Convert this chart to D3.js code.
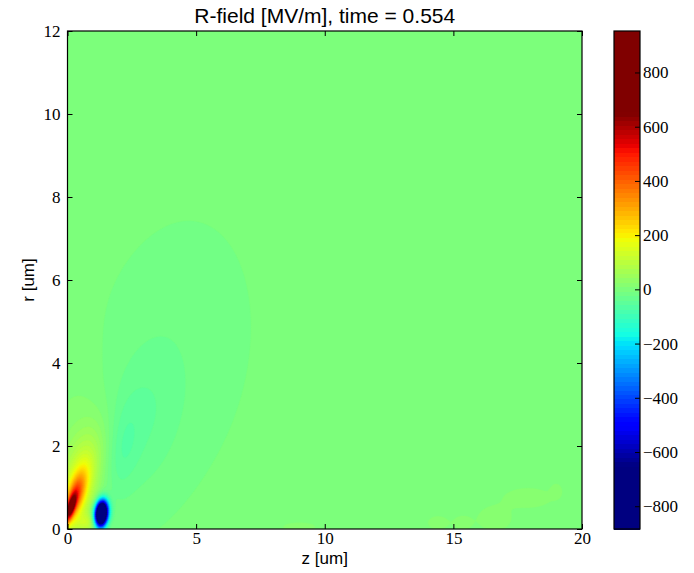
<!DOCTYPE html>
<html>
<head>
<meta charset="utf-8">
<style>
  body { margin: 0; background: #fff; }
  .lbl { font-family: "Liberation Sans", Arial, sans-serif; fill: #000; }
</style>
</head>
<body>
<svg width="694" height="573"></svg>
<script src="https://d3js.org/d3.v7.min.js"></script>
<script>
const svg = d3.select("svg");
const plot = {left: 67.5, right: 582, top: 31, bottom: 529}; // axes box in px
const cbar = {left: 614, right: 640};                        // colorbar box in px

const zDomain = [0, 20];
const rDomain = [0, 12];
const zTicks = [0, 5, 10, 15, 20];
const rTicks = [0, 2, 4, 6, 8, 10, 12];
const cbTicks = [-800, -600, -400, -200, 0, 200, 400, 600, 800];
const cbRange = [-884, 953];   // field min / max, ends of the colorbar
const colorLimit = 650;        // jet saturates beyond +-650
const nBands = 111;            // filled contour bands

// field lobes (um, um, um, um, deg, MV/m)
const lobeZ     = [4.0, 2.9, 2.15,  0.12, 0.3,  0.45, 0.3, 0.8,   1.32,   17.9, 19.0, 16.6, 14.4, 15.35, 9.0];
const lobeR     = [4.1, 2.6, 1.9,   0.5,  0.78, 1.05, 1.5, 0.15,  0.37,   0.75, 0.92, 0.25, 0.15, 0.15,  0.05];
const lobeMajor = [3.0, 1.5, 0.8,   0.25, 0.45, 0.9,  1.5, 0.3,   0.2,    0.7,  0.15, 0.5,  0.3,  0.25,  0.5];
const lobeMinor = [2.35, 1.0, 0.4,  0.09, 0.2,  0.45, 0.8, 0.15,  0.16,   0.18, 0.12, 0.22, 0.12, 0.12,  0.08];
const lobeAngle = [52,  58,  72,    62,   60,   62,   80,  0,     70,     0,    0,    0,    0,    0,     0];
const lobeAmp   = [-14, -30, -30,   480,  300,  150,  30,  80,    -1600,  22,   22,   22,   22,   22,    22];

const x = d3.scaleLinear().domain(zDomain).range([plot.left, plot.right]);
const y = d3.scaleLinear().domain(rDomain).range([plot.bottom, plot.top]);

// jet colormap
const jetR = d3.scaleLinear().domain([0, 0.35, 0.66, 0.89, 1]).range([0, 0, 1, 1, 0.5]).clamp(true);
const jetG = d3.scaleLinear().domain([0, 0.125, 0.375, 0.64, 0.91, 1]).range([0, 0, 1, 1, 0, 0]).clamp(true);
const jetB = d3.scaleLinear().domain([0, 0.11, 0.34, 0.65, 1]).range([0.5, 1, 1, 0, 0]).clamp(true);
const norm = d3.scaleLinear().domain([-colorLimit, colorLimit]).range([0, 1]).clamp(true);
const jet = v => { const t = norm(v); return d3.rgb(jetR(t) * 255, jetG(t) * 255, jetB(t) * 255).toString(); };

const levels = d3.range(nBands + 1).map(k => cbRange[0] + k * (cbRange[1] - cbRange[0]) / nBands);
const bandColor = levels.slice(0, -1).map((l, k) => jet((l + levels[k + 1]) / 2));

// sample the field on a grid
const dz = 0.05, dr = 0.05;
const nx = Math.round((zDomain[1] - zDomain[0]) / dz) + 3;
const ny = Math.round((rDomain[1] - rDomain[0]) / dr) + 3;
const values = new Float64Array(nx * ny);
for (let j = 0; j < ny; j++) {
  const r = rDomain[0] + (j - 1) * dr;
  for (let i = 0; i < nx; i++) {
    const z = zDomain[0] + (i - 1) * dz;
    let v = 0;
    for (let k = 0; k < lobeZ.length; k++) {
      const a = lobeAngle[k] * Math.PI / 180;
      const dzk = z - lobeZ[k], drk = r - lobeR[k];
      const u = (dzk * Math.cos(a) + drk * Math.sin(a)) / lobeMajor[k];
      const w = (dzk * Math.sin(a) - drk * Math.cos(a)) / lobeMinor[k];
      v += lobeAmp[k] * Math.exp(-(u * u + w * w) / 2);
    }
    values[j * nx + i] = v;
  }
}

const contours = d3.contours().size([nx, ny]).thresholds(levels.slice(1, -1))(values);
const proj = d3.geoTransform({
  point(px, py) {
    this.stream.point(x(zDomain[0] + (px - 1.5) * dz), y(rDomain[0] + (py - 1.5) * dr));
  }
});
const path = d3.geoPath(proj);

svg.append("clipPath").attr("id", "clip")
  .append("rect")
  .attr("x", plot.left).attr("y", plot.top)
  .attr("width", plot.right - plot.left).attr("height", plot.bottom - plot.top);

const field = svg.append("g").attr("clip-path", "url(#clip)");
field.append("rect")
  .attr("x", plot.left).attr("y", plot.top)
  .attr("width", plot.right - plot.left).attr("height", plot.bottom - plot.top)
  .attr("fill", bandColor[0]);
field.selectAll("path")
  .data(contours)
  .join("path")
  .attr("d", path)
  .attr("fill", (d, k) => bandColor[k + 1])
  .attr("stroke", (d, k) => bandColor[k + 1])
  .attr("stroke-width", 0.3);

const serif = g => g.selectAll("text")
  .style("font-family", "'Liberation Serif', 'Times New Roman', serif")
  .style("font-size", "17px")
  .style("fill", "#000");

// axes, ticks pointing inward on all sides
svg.append("g").attr("transform", `translate(0,${plot.bottom})`)
  .call(d3.axisBottom(x).tickValues(zTicks).tickSize(-5).tickPadding(3).tickFormat(d3.format("d")))
  .call(g => g.select(".domain").remove())
  .call(serif);
svg.append("g").attr("transform", `translate(0,${plot.top})`)
  .call(d3.axisTop(x).tickValues(zTicks).tickSize(-5).tickFormat(""))
  .call(g => g.select(".domain").remove());
svg.append("g").attr("transform", `translate(${plot.left},0)`)
  .call(d3.axisLeft(y).tickValues(rTicks).tickSize(-5).tickPadding(7).tickFormat(d3.format("d")))
  .call(g => g.select(".domain").remove())
  .call(serif);
svg.append("g").attr("transform", `translate(${plot.right},0)`)
  .call(d3.axisRight(y).tickValues(rTicks).tickSize(-5).tickFormat(""))
  .call(g => g.select(".domain").remove());

svg.append("rect")
  .attr("x", plot.left).attr("y", plot.top)
  .attr("width", plot.right - plot.left).attr("height", plot.bottom - plot.top)
  .attr("fill", "none").attr("stroke", "#000").attr("stroke-width", 1.2);

// colorbar
const cy = d3.scaleLinear().domain(cbRange).range([plot.bottom, plot.top]);
svg.append("g").attr("shape-rendering", "crispEdges").selectAll("rect")
  .data(bandColor)
  .join("rect")
  .attr("x", cbar.left)
  .attr("width", cbar.right - cbar.left)
  .attr("y", (d, k) => cy(levels[k + 1]))
  .attr("height", (d, k) => cy(levels[k]) - cy(levels[k + 1]) + 0.6)
  .attr("fill", d => d);
svg.append("g").attr("transform", `translate(${cbar.right},0)`)
  .call(d3.axisRight(cy).tickValues(cbTicks).tickSize(-5).tickPadding(3).tickFormat(d3.format("d")))
  .call(g => g.select(".domain").remove())
  .call(serif);
svg.append("rect")
  .attr("x", cbar.left).attr("y", plot.top)
  .attr("width", cbar.right - cbar.left).attr("height", plot.bottom - plot.top)
  .attr("fill", "none").attr("stroke", "#000").attr("stroke-width", 1.2);

// labels
svg.append("text").attr("class", "lbl")
  .attr("x", (plot.left + plot.right) / 2).attr("y", 23)
  .attr("text-anchor", "middle").attr("font-size", 21)
  .text("R-field [MV/m], time = 0.554");
svg.append("text").attr("class", "lbl")
  .attr("x", (plot.left + plot.right) / 2).attr("y", 564)
  .attr("text-anchor", "middle").attr("font-size", 17)
  .text("z [um]");
svg.append("text").attr("class", "lbl")
  .attr("transform", `translate(34,${(plot.top + plot.bottom) / 2}) rotate(-90)`)
  .attr("text-anchor", "middle").attr("font-size", 17)
  .text("r [um]");
</script>
</body>
</html>
